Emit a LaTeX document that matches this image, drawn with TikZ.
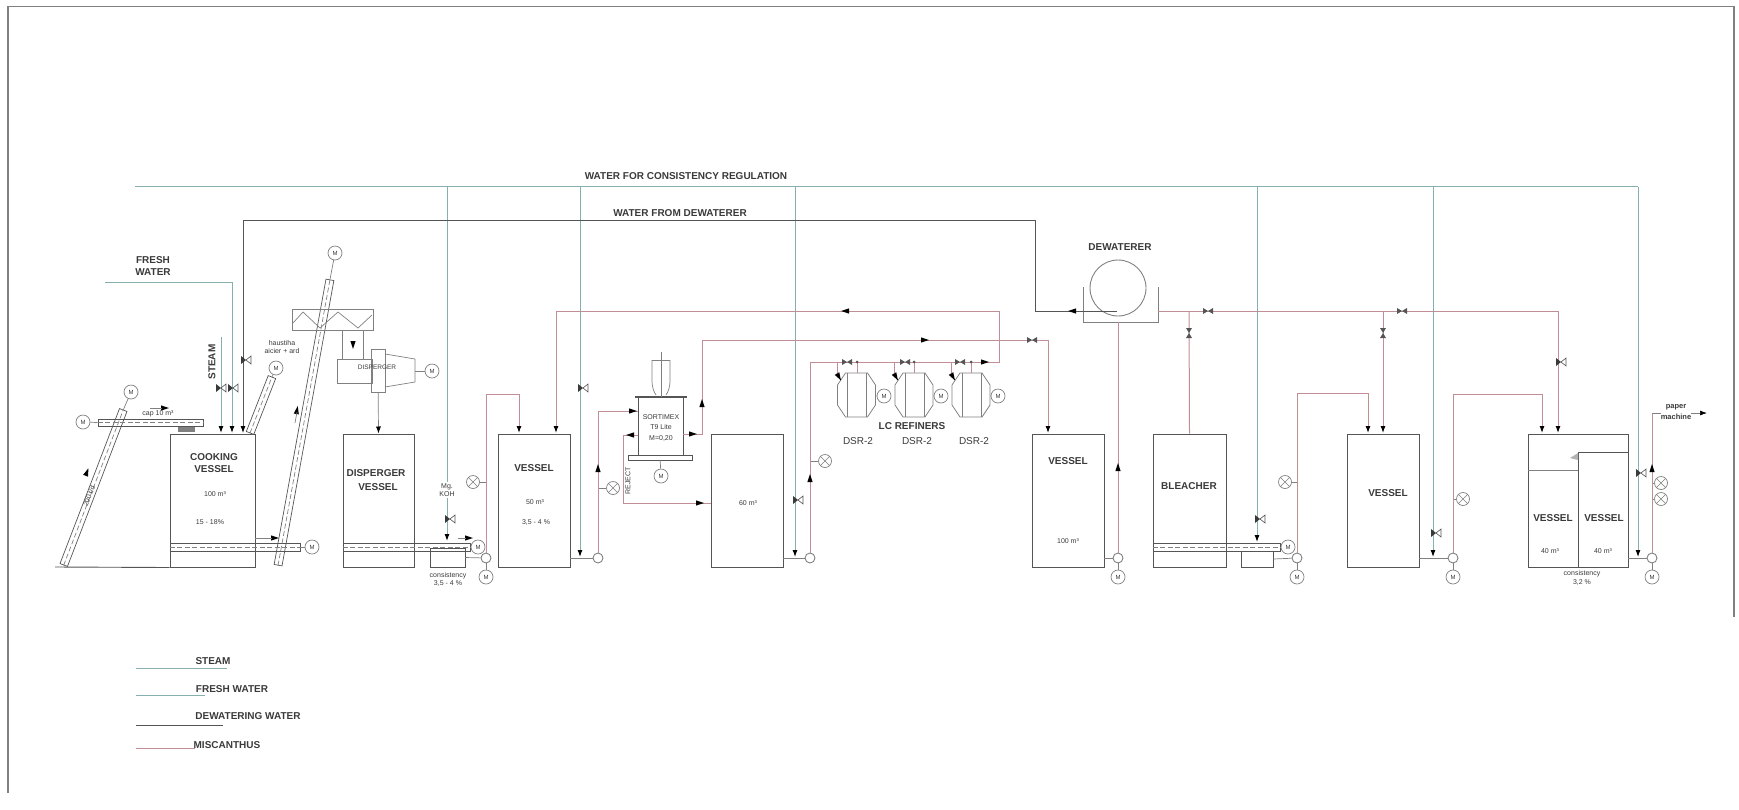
\documentclass[tikz,border=0pt]{standalone}
\usepackage{fontspec}
\usepackage{tikz}
\usetikzlibrary{arrows.meta}
\setmainfont{Liberation Sans}
\definecolor{linedark}{HTML}{555555}
\definecolor{pipegrey}{HTML}{808080}
\definecolor{watergreen}{HTML}{86B0AE}
\definecolor{pipered}{HTML}{C28E96}
\definecolor{labeldark}{HTML}{3A3A3A}
\tikzset{
  vesselbox/.style={draw=linedark,line width=1pt,minimum height=133pt,inner sep=0pt},
  smallbox/.style={draw=linedark,line width=.9pt,inner sep=0pt},
  pumpnode/.style={draw=pipegrey,circle,line width=.9pt,minimum size=10pt,inner sep=0pt,fill=white},
  motornode/.style={draw=pipegrey,circle,line width=.7pt,minimum size=14pt,inner sep=0pt,fill=white,font=\fontsize{6}{6}\selectfont,text=labeldark},
  mixnode/.style={draw=pipegrey,circle,line width=.7pt,minimum size=13pt,inner sep=0pt,fill=white,path picture={\draw[pipegrey,line width=.5pt] (path picture bounding box.north west) -- (path picture bounding box.south east) (path picture bounding box.north east) -- (path picture bounding box.south west);}},
  refinerbox/.style={minimum width=38pt,minimum height=44pt,inner sep=0pt},
  waterline/.style={draw=watergreen,line width=1pt},
  dewline/.style={draw=linedark,line width=.9pt},
  redline/.style={draw=pipered,line width=1pt},
  thinline/.style={draw=pipegrey,line width=.7pt},
  endtip/.style={-{Latex[length=7pt,width=5pt,color=black]}},
  capsbold/.style={font=\fontsize{10}{11}\bfseries\selectfont,text=labeldark,inner sep=0pt},
  smalltext/.style={font=\fontsize{7}{8.5}\selectfont,text=labeldark,inner sep=0pt,align=center},
  midtext/.style={font=\fontsize{10}{11}\selectfont,text=labeldark,inner sep=0pt},
  screwbox/.style={draw=linedark,line width=.7pt,minimum height=8pt,inner sep=0pt},
  screwcore/.style={draw=pipegrey,line width=.7pt,dash pattern=on 5pt off 2.5pt},
  tipmark/.pic={\fill[black] (-4,-2.6) -- (4,0) -- (-4,2.6) -- cycle;},
  valvemark/.pic={\fill[labeldark] (-5,-4) -- (0,0) -- (-5,4) -- cycle; \draw[linedark,line width=.6pt] (5,-4) -- (0,0) -- (5,4) -- cycle;},
  valvetwin/.pic={\fill[linedark] (-5,-3) -- (0,0) -- (-5,3) -- cycle; \fill[linedark] (5,-3) -- (0,0) -- (5,3) -- cycle;},
  refinermark/.pic={\draw[pipegrey,line width=.8pt] (-11,-22) -- (11,-22) -- (19,-10) -- (19,10) -- (11,22) -- (-11,22) -- (-19,10) -- (-19,-10) -- cycle; \draw[pipegrey,line width=.5pt] (-9,-22) -- (-9,22) (10,-22) -- (10,22);}
}
\begin{document}
\begin{tikzpicture}[x=1pt,y=-1pt]
\useasboundingbox (0,0) rectangle (1739,809);
% sheet border
\coordinate (bordera) at (8,793);
\coordinate (borderb) at (8,6.5);
\coordinate (borderc) at (1734,6.5);
\coordinate (borderd) at (1734,617);
\draw[draw=pipegrey,line width=1.2pt] (bordera) -- (borderb) -- (borderc) -- (borderd);

% vessels
\node[vesselbox,minimum width=85pt] (vcook) at (212.5,500.5) {};
\node[vesselbox,minimum width=71pt] (vdisp) at (378.5,500.5) {};
\node[vesselbox,minimum width=72pt] (vone) at (534,500.5) {};
\node[vesselbox,minimum width=72pt] (vthree) at (747,500.5) {};
\node[vesselbox,minimum width=72pt] (vhold) at (1068,500.5) {};
\node[vesselbox,minimum width=73pt] (vbleach) at (1189.5,500.5) {};
\node[vesselbox,minimum width=72pt] (vfour) at (1383,500.5) {};
\node[vesselbox,minimum width=100pt] (vdouble) at (1578,500.5) {};
\node[smallbox,minimum width=35pt,minimum height=19pt] (boxone) at (447.5,557.5) {};
\node[smallbox,minimum width=32pt,minimum height=16pt] (boxtwo) at (1257,559) {};
\coordinate (basestart) at (55,567);
\draw[dewline] (basestart) -- (vcook.south west);
% double vessel partitions
\coordinate (parta) at (1578,567);
\coordinate (partb) at (1578,452);
\coordinate (partc) at (1628,452);
\coordinate (partd) at (1528,470);
\coordinate (parte) at (1578,470);
\draw[dewline] (parta) -- (partb) -- (partc);
\draw[thinline] (partd) -- (parte);
\fill[pipegrey!60] (1570,458) -- (1578,453) -- (1578,460) -- cycle;

% pumps, motors, mixers
\node[pumpnode] (pone) at (486,558) {};
\node[pumpnode] (ptwo) at (598,558) {};
\node[pumpnode] (pthree) at (810,558) {};
\node[pumpnode] (pfour) at (1118,558) {};
\node[pumpnode] (pfive) at (1297,558) {};
\node[pumpnode] (psix) at (1453,558) {};
\node[pumpnode] (pseven) at (1652,558) {};
\node[motornode] (mone) at (486,577) {M};
\node[motornode] (mfour) at (1118,577) {M};
\node[motornode] (mfive) at (1297,577) {M};
\node[motornode] (msix) at (1453,577) {M};
\node[motornode] (mseven) at (1652,577) {M};
\node[motornode] (mcook) at (312,547) {M};
\node[motornode] (mscrew) at (478,547) {M};
\node[motornode] (mbleach) at (1288,547) {M};
\node[motornode] (mfeed) at (131,392) {M};
\node[motornode] (mtop) at (83,422) {M};
\node[motornode] (mslope) at (276,368) {M};
\node[motornode] (mlong) at (335,253) {M};
\node[motornode] (mdisp) at (432,371) {M};
\node[motornode] (msort) at (661,476) {M};
\node[motornode] (mrone) at (884,396) {M};
\node[motornode] (mrtwo) at (941,396) {M};
\node[motornode] (mrthree) at (998,396) {M};
\node[mixnode] (xone) at (473,482) {};
\node[mixnode] (xtwo) at (613,488) {};
\node[mixnode] (xthree) at (825,461) {};
\node[mixnode] (xfour) at (1285,482) {};
\node[mixnode] (xfive) at (1463,499) {};
\node[mixnode] (xsix) at (1661,499) {};
\node[mixnode] (xseven) at (1661,483) {};
\draw[thinline] (pone) -- (mone);
\draw[thinline] (pfour) -- (mfour);
\draw[thinline] (pfive) -- (mfive);
\draw[thinline] (psix) -- (msix);
\draw[thinline] (pseven) -- (mseven);
\draw[thinline] (xone) -- (xone-|pone);
\draw[thinline] (xtwo) -- (xtwo-|ptwo);
\draw[thinline] (xthree) -- (xthree-|pthree);
\draw[thinline] (xfour) -- (xfour-|pfive);
\draw[thinline] (xfive) -- (xfive-|psix);
\draw[thinline] (xsix) -- (xsix-|pseven);
\draw[thinline] (xseven) -- (xseven-|pseven);

% screws
\node[screwbox,minimum width=166pt,rotate=69] (sfeed) at (93.5,487.5) {};
\node[screwbox,minimum width=105pt,minimum height=7pt] (stop) at (150.5,422.5) {};
\node[screwbox,minimum width=60pt,rotate=68.6] (sslope) at (261,405) {};
\node[screwbox,minimum width=130pt] (scook) at (235,547) {};
\node[screwbox,minimum width=127pt] (sdisp) at (406.5,547) {};
\node[screwbox,minimum width=127pt] (sbleach) at (1216.5,547) {};
\node[screwbox,minimum width=290pt,rotate=79.7] (slong) at (304,422.5) {};
\draw[screwcore] (sfeed.west) -- (sfeed.east);
\draw[screwcore] (stop.west) -- (stop.east);
\draw[screwcore] (sslope.west) -- (sslope.east);
\draw[screwcore] (scook.west) -- (scook.east);
\draw[screwcore] (sdisp.west) -- (sdisp.east);
\draw[screwcore] (sbleach.west) -- (sbleach.east);
\draw[screwcore] (slong.west) -- (slong.east);
\draw[thinline] (sfeed.east) -- (mfeed);
\draw[thinline] (mtop) -- (stop.west);
\draw[thinline] (sslope.east) -- (mslope);
\draw[thinline] (scook.east) -- (mcook);
\draw[thinline] (slong.east) -- (mlong);
\fill[pipegrey] (178,427) rectangle (195,432);

% hopper and disperger
\node[draw=pipegrey,line width=.8pt,minimum width=81pt,minimum height=21pt,inner sep=0pt] (hopper) at (332.5,319.5) {};
\draw[thinline] (293,323) -- (303,312) -- (320,328) -- (338,312) -- (358,328) -- (372,315);
\node[draw=pipegrey,line width=.8pt,minimum width=35pt,minimum height=24pt,inner sep=0pt] (dbody) at (354.5,371) {};
\node[draw=pipegrey,line width=.8pt,minimum width=14pt,minimum height=43pt,inner sep=0pt] (dcore) at (378,370.5) {};
\draw[thinline] (385,354) -- (415,359) -- (415,382) -- (385,387);
\coordinate (coneend) at (415,371);
\draw[thinline] (coneend) -- (mdisp);
\coordinate (hopa) at (342,330);
\coordinate (hopb) at (342,359);
\coordinate (hopc) at (363,330);
\coordinate (hopd) at (363,359);
\draw[thinline] (hopa) -- (hopb);
\draw[thinline] (hopc) -- (hopd);
\pic[rotate=270] at (353,345) {tipmark};
\draw[thinline,endtip] (dcore) -- (vdisp.north);

% sorter
\node[draw=linedark,line width=.9pt,minimum width=45pt,minimum height=58pt,inner sep=0pt] (sorter) at (660.5,426) {};
\node[draw=linedark,line width=.8pt,minimum width=64pt,minimum height=5pt,inner sep=0pt] (sortplate) at (660,457.5) {};
\draw[draw=linedark,line width=2pt] (635,397) -- (687,397);
\draw[thinline] (652,360) -- (652,380) .. controls (652,388) and (654,392) .. (656,395);
\draw[thinline] (670,360) -- (670,380) .. controls (670,388) and (668,392) .. (666,395);
\draw[thinline] (652,360) -- (670,360);
\draw[thinline] (661,352) -- (661,397);
\draw[thinline] (sortplate) -- (msort);

% refiners
\node[refinerbox] (refone) at (856.5,395) {};
\node[refinerbox] (reftwo) at (914,395) {};
\node[refinerbox] (refthree) at (971,395) {};
\pic at (refone) {refinermark};
\pic at (reftwo) {refinermark};
\pic at (refthree) {refinermark};
\draw[thinline] (refone) -- (mrone);
\draw[thinline] (reftwo) -- (mrtwo);
\draw[thinline] (refthree) -- (mrthree);

% dewaterer
\node[draw=pipegrey,circle,line width=.9pt,minimum size=56pt,inner sep=0pt] (dcircle) at (1118,288) {};
\draw[thinline] (1083,287) -- (1083,322) -- (1158,322) -- (1158,287);
\coordinate (tubbot) at (1118,322);
\coordinate (tubright) at (1158,311);

% water for consistency regulation
\coordinate (wstart) at (135,186.7);
\coordinate (wend) at (1638,186.7);
\coordinate (wone) at (447,186.7);
\coordinate (wtwo) at (580,186.7);
\coordinate (wthree) at (795,186.7);
\coordinate (wfour) at (1257,186.7);
\coordinate (wfive) at (1433,186.7);
\draw[waterline] (wstart) -- (wend);
\coordinate (wonee) at (447,541);
\coordinate (wtwoe) at (580,557);
\coordinate (wthreee) at (795,557);
\coordinate (wfoure) at (1257,542);
\coordinate (wfivee) at (1433,557);
\coordinate (wende) at (1638,557);
\draw[waterline,endtip] (wone) -- (wonee);
\draw[waterline,endtip] (wtwo) -- (wtwoe);
\draw[waterline,endtip] (wthree) -- (wthreee);
\draw[waterline,endtip] (wfour) -- (wfoure);
\draw[waterline,endtip] (wfive) -- (wfivee);
\draw[waterline,endtip] (wend) -- (wende);

% fresh water, steam, water from dewaterer
\coordinate (freshstart) at (105,282);
\coordinate (freshend) at (232,433);
\draw[waterline,endtip] (freshstart) -| (freshend);
\coordinate (steamstart) at (221,337);
\coordinate (steamend) at (221,433);
\draw[waterline,endtip] (steamstart) -- (steamend);
\coordinate (dewa) at (1117,311);
\coordinate (dewb) at (1035,311);
\coordinate (dewc) at (1035,220);
\coordinate (dewd) at (243,220);
\coordinate (dewe) at (243,433);
\draw[dewline,endtip] (dewa) -- (dewb) -- (dewc) -- (dewd) -- (dewe);

% miscanthus lines
\coordinate (vonein) at (519,433);
\coordinate (voneback) at (556,433);
\coordinate (vfourin) at (1368,433);
\coordinate (vfourtop) at (1383,433);
\coordinate (vdblin) at (1542,433);
\coordinate (vdbltop) at (1558,433);
\coordinate (vholdin) at (1048,433);
\draw[redline,endtip] (pone) |- (vonein |- 0,394) -- (vonein);
\coordinate (sortin) at (638,411);
\coordinate (sortout) at (683,434);
\coordinate (rejout) at (638,435);
\coordinate (rejin) at (711,503);
\draw[redline] (ptwo) |- (sortin);
\draw[redline] (rejout) -- (623,435) |- (rejin);
\draw[redline,endtip] (sortout) -- (702,434) -- (702,340) -| (vholdin);
\coordinate (loopa) at (810,362);
\coordinate (loopb) at (999,362);
\coordinate (loopc) at (999,311);
\coordinate (loopd) at (556,311);
\draw[redline,endtip] (pthree) -- (loopa) -- (loopb) -- (loopc) -- (loopd) -- (voneback);
\draw[redline] (tubright) -- (1558,311);
\draw[redline,endtip] (1558,311) -- (vdbltop);
\draw[redline] (1189,311) -- (vbleach.north);
\draw[redline,endtip] (1383,311) -- (vfourtop);
\draw[redline] (pfour) -- (tubbot);
\draw[redline,endtip] (pfive) |- (vfourin |- 0,393) -- (vfourin);
\draw[redline,endtip] (psix) |- (vdblin |- 0,394) -- (vdblin);
\coordinate (papera) at (1652,413);
\coordinate (paperb) at (1707,413);
\draw[redline] (pseven) -- (papera);
\draw[thinline,endtip] (papera) -- (paperb);

% vessel outlets
\coordinate (outone) at (570,558);
\coordinate (outthree) at (783,558);
\coordinate (outhold) at (1104,558);
\coordinate (outfour) at (1419,558);
\coordinate (outdbl) at (1628,558);
\draw[thinline] (outone) -- (ptwo);
\draw[thinline] (outthree) -- (pthree);
\draw[thinline] (outhold) -- (pfour);
\draw[thinline] (outfour) -- (psix);
\draw[thinline] (outdbl) -- (pseven);
\draw[thinline] (boxone.east) -- (pone);
\draw[thinline] (boxtwo.east) -- (pfive);

% refiner feeds
\draw[redline] (837,362) -- (837,373);
\draw[redline] (857,362) -- (857,373);
\draw[redline] (894,362) -- (894,373);
\draw[redline] (914,362) -- (914,373);
\draw[redline] (951,362) -- (951,373);
\draw[redline] (971,362) -- (971,373);
\foreach \dotx in {857,914,971} {\fill[linedark] (\dotx,362) circle (1.5);}
\foreach \tipx in {839,896,953} {\pic[rotate=-60] at (\tipx,377) {tipmark};}

% flow marks
\pic at (165,408) {tipmark};
\pic at (275,538) {tipmark};
\pic at (469,538) {tipmark};
\pic[rotate=180] at (630,435) {tipmark};
\pic at (633,411) {tipmark};
\pic at (693,434) {tipmark};
\pic at (700,503) {tipmark};
\pic[rotate=90] at (598,468) {tipmark};
\pic[rotate=90] at (702,403) {tipmark};
\pic[rotate=90] at (810,478) {tipmark};
\pic[rotate=90] at (1118,467) {tipmark};
\pic[rotate=90] at (1652,468) {tipmark};
\pic[rotate=180] at (845,311) {tipmark};
\pic at (985,362) {tipmark};
\pic at (925,340) {tipmark};
\pic[rotate=180] at (1072,311) {tipmark};
\pic[rotate=69] at (87,472) {tipmark};
\pic[rotate=80] at (297,410) {tipmark};
\draw[thinline] (150,408) -- (162,408);
\draw[thinline] (255,538) -- (272,538);
\draw[thinline] (458,538) -- (466,538);
\draw[thinline] (295,423) -- (297,412);

% valves
\pic at (221,388) {valvemark};
\pic at (233,388) {valvemark};
\pic at (246,360) {valvemark};
\pic at (450,519) {valvemark};
\pic at (583,388) {valvemark};
\pic at (798,500) {valvemark};
\pic at (1260,519) {valvemark};
\pic at (1436,533) {valvemark};
\pic at (1561,362) {valvemark};
\pic at (1641,473) {valvemark};
\pic at (847,362) {valvetwin};
\pic at (905,362) {valvetwin};
\pic at (960,362) {valvetwin};
\pic at (1032,340) {valvetwin};
\pic at (1208,311) {valvetwin};
\pic at (1402,311) {valvetwin};
\pic[rotate=90] at (1189,333) {valvetwin};
\pic[rotate=90] at (1383,333) {valvetwin};

% labels
\node[capsbold] (lwater) at (686,176) {WATER FOR CONSISTENCY REGULATION};
\node[capsbold] (ldew) at (680,213) {WATER FROM DEWATERER};
\node[capsbold] (lfresha) at (153,260) {FRESH};
\node[capsbold] (lfreshb) at (153,272) {WATER};
\node[capsbold,rotate=90] (lsteam) at (212,362) {STEAM};
\node[capsbold] (lcooka) at (214,457) {COOKING};
\node[capsbold] (lcookb) at (214,469) {VESSEL};
\node[smalltext] (lcookc) at (215,494) {100 m³};
\node[smalltext] (lcookd) at (210,522) {15 - 18\%};
\node[capsbold] (ldispa) at (376,473) {DISPERGER};
\node[capsbold] (ldispb) at (378,487) {VESSEL};
\node[smalltext,fill=white,inner sep=1pt] (lmg) at (447,490) {Mg.\\KOH};
\node[smalltext] (lconsa) at (448,579.5) {consistency\\3,5 - 4 \%};
\node[smalltext] (lbelt) at (158,414) {cap 10 m³};
\node[smalltext,rotate=69] (lfeed) at (89,496) {200 t/d};
\node[smalltext] (lslope) at (282,347) {haustiha\\aicier + ard};
\node[font=\fontsize{6.5}{7}\selectfont,text=labeldark,inner sep=0pt] (ldisp) at (377,367) {DISPERGER};
\node[capsbold] (lvone) at (534,468) {VESSEL};
\node[smalltext] (lvonea) at (535,502) {50 m³};
\node[smalltext] (lvoneb) at (536,522) {3,5 - 4 \%};
\node[smalltext] (lsorta) at (661,417) {SORTIMEX};
\node[smalltext] (lsortb) at (661,427) {T9 Lite};
\node[smalltext] (lsortc) at (661,438) {M=0,20};
\node[smalltext,rotate=90] (lreject) at (628,481) {REJECT};
\node[smalltext] (lvthree) at (748,503) {60 m³};
\node[capsbold] (lref) at (912,426) {LC REFINERS};
\node[midtext] (ldsra) at (858,441) {DSR-2};
\node[midtext] (ldsrb) at (917,441) {DSR-2};
\node[midtext] (ldsrc) at (974,441) {DSR-2};
\node[capsbold] (ldewat) at (1120,247) {DEWATERER};
\node[capsbold] (lvhold) at (1068,461) {VESSEL};
\node[smalltext] (lvholdb) at (1068,541) {100 m³};
\node[capsbold] (lbleach) at (1189,486) {BLEACHER};
\node[capsbold] (lvfour) at (1388,493) {VESSEL};
\node[capsbold] (lvdbla) at (1553,518) {VESSEL};
\node[capsbold] (lvdblb) at (1604,518) {VESSEL};
\node[smalltext] (lvdblc) at (1550,551) {40 m³};
\node[smalltext] (lvdbld) at (1603,551) {40 m³};
\node[smalltext] (lconsb) at (1582,578) {consistency\\3,2 \%};
\node[font=\fontsize{7.5}{11}\bfseries\selectfont,text=labeldark,inner sep=0pt,align=center,fill=white] (lpaper) at (1676,412.5) {paper\\machine};

% legend
\coordinate (legsteama) at (136,668);
\coordinate (legsteamb) at (227,668);
\coordinate (legfresha) at (136,695);
\coordinate (legfreshb) at (205,695);
\coordinate (legdewa) at (136,725);
\coordinate (legdewb) at (223,725);
\coordinate (legreda) at (136,748);
\coordinate (legredb) at (195,748);
\draw[waterline] (legsteama) -- (legsteamb);
\draw[waterline] (legfresha) -- (legfreshb);
\draw[dewline] (legdewa) -- (legdewb);
\draw[redline] (legreda) -- (legredb);
\node[capsbold] (lsteamk) at (213,661) {STEAM};
\node[capsbold] (lfreshk) at (232,689) {FRESH WATER};
\node[capsbold] (ldewk) at (248,716) {DEWATERING WATER};
\node[capsbold] (lredk) at (227,745) {MISCANTHUS};
\end{tikzpicture}
\end{document}
